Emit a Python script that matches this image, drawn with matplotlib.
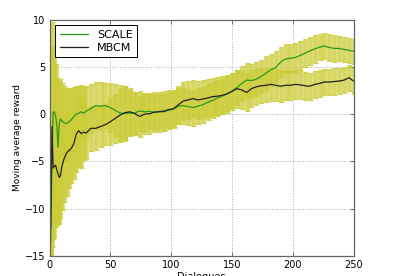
import matplotlib
matplotlib.use('Agg')
import matplotlib.pyplot as plt

# dialogue index where values were read
dialogues = [1, 2, 3, 4, 5, 6, 7, 8, 9, 10,
             12, 14, 16, 18, 20, 22, 24, 26, 28, 30,
             34, 38, 42, 46, 50, 54, 58, 62, 66, 70,
             74, 78, 82, 86, 90, 94, 98, 102, 106, 110,
             114, 118, 122, 126, 130, 134, 138, 142, 146, 150,
             154, 158, 162, 166, 170, 174, 178, 182, 186, 190,
             194, 198, 202, 206, 210, 214, 218, 222, 226, 230,
             234, 238, 242, 246, 250]

scale = [-13.5, -5.0, 0.2, 0.25, -0.2, -1.2, -3.5, -1.0, -0.5, -0.7,
         -0.9, -1.0, -0.8, -0.6, -0.25, 0.0, 0.1, 0.25, 0.1, 0.3,
         0.6, 0.9, 0.85, 0.9, 0.7, 0.4, 0.12, 0.08, 0.12, 0.1,
         0.35, 0.25, 0.3, 0.22, 0.28, 0.25, 0.42, 0.55, 0.85, 0.9,
         0.8, 0.7, 0.85, 1.0, 1.25, 1.45, 1.7, 1.9, 2.15, 2.45,
         2.8, 3.25, 3.6, 3.55, 3.7, 4.0, 4.35, 4.7, 4.95, 5.5,
         5.85, 5.9, 6.0, 6.2, 6.45, 6.7, 6.9, 7.1, 7.2, 7.05,
         6.95, 6.95, 6.85, 6.75, 6.65]

scale_err = [11, 9, 7, 6.5, 5.5, 5.0, 5.0, 4.5, 4.2, 4.0,
             3.9, 3.8, 3.6, 3.4, 3.1, 3.0, 2.9, 2.8, 2.8, 2.7,
             2.6, 2.5, 2.5, 2.4, 2.6, 2.8, 3.0, 2.9, 2.4, 2.2,
             2.1, 2.0, 1.9, 1.9, 1.9, 1.9, 1.9, 1.9, 1.9, 1.9,
             1.9, 1.9, 1.9, 1.9, 1.9, 1.9, 1.9, 1.85, 1.85, 1.85,
             1.85, 1.85, 1.85, 1.8, 1.8, 1.75, 1.75, 1.7, 1.7, 1.6,
             1.55, 1.5, 1.5, 1.5, 1.45, 1.45, 1.45, 1.4, 1.4, 1.4,
             1.4, 1.35, 1.35, 1.35, 1.35]

mbcm = [-12.0, -1.3, -5.7, -5.5, -5.4, -5.9, -6.3, -6.7, -6.5, -5.6,
        -4.7, -4.1, -3.85, -3.6, -3.1, -2.1, -1.75, -2.05, -1.9, -2.0,
        -1.5, -1.5, -1.3, -1.1, -0.8, -0.45, -0.1, 0.15, 0.25, 0.07,
        -0.25, 0.0, 0.05, 0.2, 0.25, 0.32, 0.48, 0.58, 1.0, 1.4,
        1.5, 1.65, 1.5, 1.6, 1.7, 1.85, 1.9, 2.0, 2.15, 2.4,
        2.7, 2.55, 2.3, 2.7, 2.9, 3.0, 3.05, 3.15, 3.05, 2.95,
        3.05, 3.05, 3.15, 3.1, 3.0, 2.95, 3.15, 3.25, 3.4, 3.4,
        3.45, 3.5, 3.6, 3.85, 3.5]

mbcm_err = [12, 11, 7.5, 7.5, 6.5, 5.8, 5.3, 4.8, 4.5, 4.5,
            4.6, 4.6, 4.0, 3.7, 3.8, 4.0, 3.8, 3.6, 3.0, 2.7,
            2.4, 2.3, 2.2, 2.2, 2.5, 2.6, 2.8, 2.8, 2.5, 2.3,
            2.2, 2.1, 2.1, 2.1, 2.1, 2.1, 2.1, 2.0, 2.0, 2.0,
            2.0, 2.0, 2.0, 2.0, 2.0, 2.0, 2.0, 2.0, 2.0, 2.0,
            2.0, 2.0, 2.0, 1.95, 1.9, 1.85, 1.8, 1.75, 1.7, 1.65,
            1.6, 1.55, 1.5, 1.5, 1.5, 1.45, 1.45, 1.4, 1.4, 1.4,
            1.4, 1.4, 1.35, 1.35, 1.35]

fig = plt.figure(figsize=(3.93, 2.76), dpi=100)
ax = fig.add_axes([0.126, 0.0725, 0.774, 0.8565])

ax.errorbar(dialogues, scale, yerr=scale_err, fmt='none', ecolor='#cccc3a',
            elinewidth=3.4, capsize=1.8, capthick=0.8, alpha=0.8)
ax.errorbar(dialogues, mbcm, yerr=mbcm_err, fmt='none', ecolor='#cccc3a',
            elinewidth=3.4, capsize=1.8, capthick=0.8, alpha=0.8)
ax.plot(dialogues, scale, color='#2a9a1a', lw=0.9, label='SCALE')
ax.plot(dialogues, mbcm, color='#222222', lw=0.9, label='MBCM')

ax.set_xlim(0, 250)
ax.set_ylim(-15, 10)
ax.set_xticks([0, 50, 100, 150, 200, 250])
ax.set_yticks([-15, -10, -5, 0, 5, 10])
ax.grid(True, color='#aaaaaa', linestyle=':', linewidth=0.7)
ax.tick_params(direction='in', top=True, right=True, labelsize=7,
               length=3, width=0.6, color='#555555', pad=3)
for s in ax.spines.values():
    s.set_color('#666666')
    s.set_linewidth(0.9)

ax.set_xlabel('Dialogues', fontsize=7, labelpad=1)
ax.set_ylabel('Moving average reward', fontsize=6.5, labelpad=2)

leg = ax.legend(loc='upper left', fontsize=8, fancybox=False,
                edgecolor='black', framealpha=1, handlelength=2.6,
                borderaxespad=0.5, borderpad=0.4, labelspacing=0.3)
leg.get_frame().set_linewidth(0.7)

fig.savefig('out.png', dpi=100)
